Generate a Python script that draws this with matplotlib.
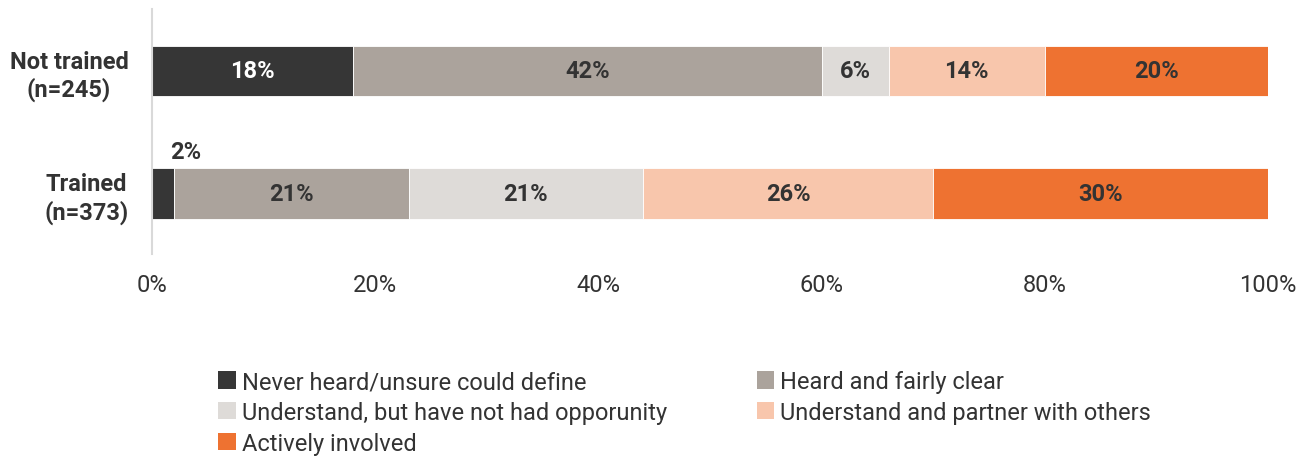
import matplotlib.pyplot as plt
from matplotlib.patches import Patch

plt.rcParams['font.family'] = ['Roboto', 'DejaVu Sans']

# --- Data ---
groups = ['Trained\n(n=373)', 'Not trained\n(n=245)']
categories = [
    'Never heard/unsure could define',
    'Heard and fairly clear',
    'Understand, but have not had opporunity',
    'Understand and partner with others',
    'Actively involved',
]
trained = [2, 21, 21, 26, 30]
not_trained = [18, 42, 6, 14, 20]
ticks = [0, 20, 40, 60, 80, 100]

colors = ['#363636', '#aba39c', '#dedbd8', '#f8c6ac', '#ee7231']
label_colors = ['white', '#333333', '#333333', '#333333', '#333333']
TEXT = '#333333'

fig = plt.figure(figsize=(13.09, 4.6), dpi=100)
ax = fig.add_axes([152 / 1309, 1 - 255 / 460, 1116 / 1309, 245 / 460])

rows = [trained, not_trained]
for yi, vals in enumerate(rows):
    left = 0
    for ci, v in enumerate(vals):
        ax.barh(yi, v, left=left, height=0.41, color=colors[ci],
                edgecolor='white', linewidth=0.6)
        if v >= 5:
            ax.text(left + v / 2, yi, f'{v}%', ha='center', va='center',
                    fontsize=17, fontweight='bold', color=label_colors[ci])
        else:
            # small segment: label sits above the bar
            ax.text(left + v / 2 + 2, yi + 0.34, f'{v}%', ha='center',
                    va='center', fontsize=17, fontweight='bold', color=TEXT)
        left += v

ax.set_xlim(0, 100)
ax.set_ylim(-0.494, 1.506)
ax.set_xticks(ticks)
ax.set_xticklabels([f'{t}%' for t in ticks], fontsize=17, color=TEXT)
ax.set_yticks([0, 1])
ax.set_yticklabels(groups, fontsize=17, fontweight='bold', color=TEXT,
                   multialignment='center')
ax.tick_params(axis='x', length=0, pad=14)
ax.tick_params(axis='y', length=0, pad=17)
for s in ['top', 'right', 'bottom']:
    ax.spines[s].set_visible(False)
ax.spines['left'].set_color('#d9d9d9')
ax.spines['left'].set_linewidth(1.5)

# legend filled row by row
order = [0, 2, 4, 1, 3]
handles = [Patch(facecolor=colors[i], edgecolor='none') for i in order]
labels = [categories[i] for i in order]
fig.legend(handles, labels, loc='upper left',
           bbox_to_anchor=(197 / 1309, 1 - 350 / 460), ncol=2, frameon=False,
           fontsize=17, handlelength=0.75, handleheight=0.75,
           handletextpad=0.25, columnspacing=3.8, labelspacing=0.33,
           labelcolor=TEXT)

fig.savefig('out.png', dpi=100)
